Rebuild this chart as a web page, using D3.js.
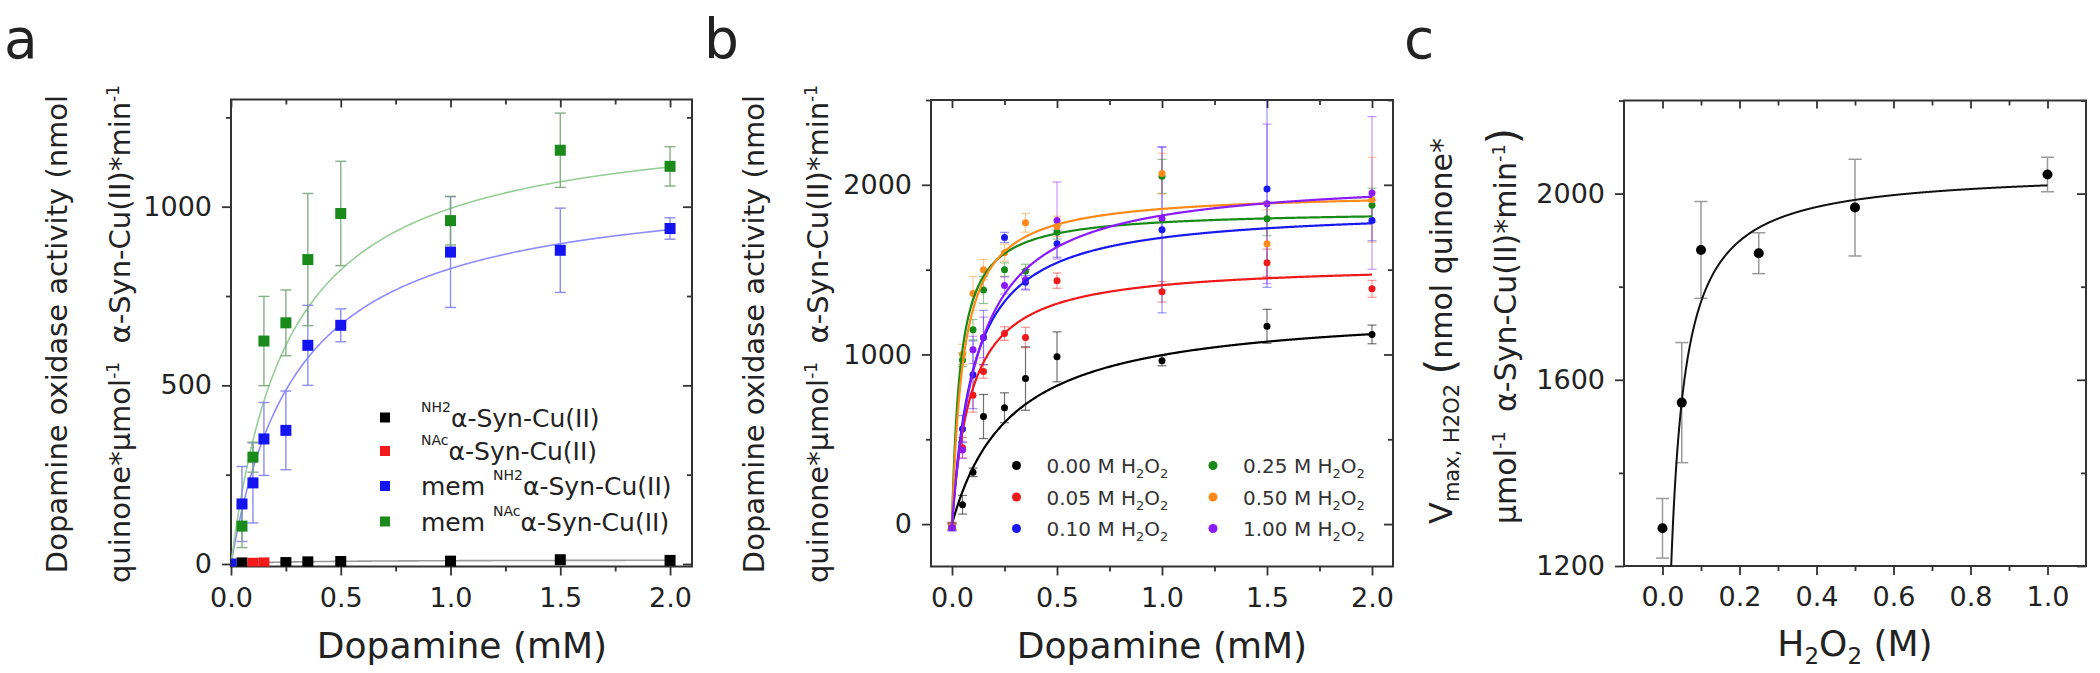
<!DOCTYPE html>
<html><head><meta charset="utf-8">
<script src="https://cdn.jsdelivr.net/npm/d3@7"></script>
<style>
body{margin:0;background:#fff}
svg{display:block}
text{font-family:"DejaVu Sans",sans-serif;fill:#222}
</style>
</head><body>
<svg id="chart" width="2100" height="673"></svg>
<script>
// ================= DATA =================
// Panel a : dopamine oxidase activity vs dopamine (mM)
const aDopamine   = [0, 0.05, 0.1, 0.15, 0.25, 0.35, 0.5, 1.0, 1.5, 2.0];
const aNH2        = [null, 3, null, null, 4, 6, 7, 8, 12, 10];
const aNH2Err     = [0, 0, 0, 0, 0, 0, 0, 0, 0, 0];
const aNAc        = [null, null, 2, 3, null, null, null, null, null, null];
const aNAcErr     = [0, 0, 0, 0, 0, 0, 0, 0, 0, 0];
const aMemNH2     = [0, 168, 227, 350, 374, 612, 668, 873, 878, 939];
const aMemNH2Err  = [0, 105, 112, 102, 110, 112, 46, 155, 118, 30];
const aMemNAc     = [null, 106, 299, 624, 675, 852, 981, 961, 1158, 1113];
const aMemNAcErr  = [0, 60, 42, 125, 92, 185, 146, 68, 104, 55];
const aLegendPrefix = ["", "", "mem ", "mem "];
const aLegendSup    = ["NH2", "NAc", "NH2", "NAc"];
const aLegendMain   = "\u03b1-Syn-Cu(II)";
// Michaelis-Menten fit parameters (Vmax, Km)
const aFitVmax = [12, null, 1078, 1258];
const aFitKm   = [0.3, null, 0.304, 0.264];
const aXTicks = [0, 0.5, 1.0, 1.5, 2.0];
const aYTicks = [0, 500, 1000];

// Panel b : activity vs dopamine at several H2O2 concentrations
const bDopamine = [0, 0.05, 0.1, 0.15, 0.25, 0.35, 0.5, 1.0, 1.5, 2.0];
const bH2O2Labels = ["0.00", "0.05", "0.10", "0.25", "0.50", "1.00"];
const bH000    = [-10, 114, 305, 634, 686, 858, 986, 963, 1166, 1118];
const bH000Err = [20, 55, 25, 130, 88, 187, 147, 30, 100, 55];
const bH005    = [-15, 450, 760, 900, 1123, 1100, 1435, 1369, 1541, 1387];
const bH005Err = [20, 60, 100, 40, 40, 60, 45, 60, 80, 50];
const bH010    = [-20, 560, 880, 1100, 1690, 1425, 1653, 1735, 1976, 1790];
const bH010Err = [20, 80, 200, 160, 30, 40, 80, 490, 580, 120];
const bH025    = [-15, 968, 1146, 1380, 1500, 1492, 1720, 2050, 1800, 1880];
const bH025Err = [20, 40, 60, 80, 40, 40, 40, 100, 100, 100];
const bH050    = [-10, 1000, 1360, 1500, 1600, 1776, 1755, 2066, 1653, 1912];
const bH050Err = [20, 60, 100, 60, 50, 55, 60, 120, 200, 250];
const bH100    = [-20, 437, 1027, 1100, 1407, 1440, 1790, 1800, 1888, 1952];
const bH100Err = [20, 50, 80, 120, 50, 60, 227, 420, 470, 450];
const bFitVmax = [1279, 1538, 1867, 1850, 1960, 2054];
const bFitKm   = [0.284, 0.092, 0.106, 0.04, 0.055, 0.129];
const bXTicks = [0, 0.5, 1.0, 1.5, 2.0];
const bYTicks = [0, 1000, 2000];

// Panel c : Vmax vs H2O2 (M)
const cH2O2     = [0, 0.05, 0.1, 0.25, 0.5, 1.0];
const cVmax     = [1281, 1551, 1879, 1872, 1970, 2041];
const cVmaxErr  = [64, 129, 104, 44, 104, 37];
const cFitVmax  = 2050;
const cFitKm    = 0.016;
const cXTicks = [0, 0.2, 0.4, 0.6, 0.8, 1.0];
const cYTicks = [1200, 1600, 2000];

// ================= DRAWING =================
const svg = d3.select("#chart");
const FONT = '"DejaVu Sans", sans-serif';
const mm = (vmax, km) => x => vmax * x / (km + x);

function axes(g, x, y, o) {
  const yb = y.range()[0], yt = y.range()[1], xl = x.range()[0], xr = x.range()[1];
  const add = (axis, tr) => {
    const a = g.append("g").attr("transform", tr).call(axis);
    a.select(".domain").remove();
    a.selectAll("line").attr("stroke", "#333").attr("stroke-width", 1.8);
    a.selectAll("text").attr("font-size", 27).attr("fill", "#222").attr("font-family", FONT);
    return a;
  };
  add(d3.axisBottom(x).tickValues(o.xMajor).tickFormat(d3.format(".1f")).tickSize(9).tickPadding(12), `translate(0,${yb})`);
  add(d3.axisBottom(x).tickValues(o.xMinor).tickFormat("").tickSize(5), `translate(0,${yb})`);
  add(d3.axisLeft(y).tickValues(o.yMajor).tickFormat(d3.format("d")).tickSize(9).tickPadding(10), `translate(${xl},0)`);
  add(d3.axisLeft(y).tickValues(o.yMinor).tickFormat("").tickSize(5), `translate(${xl},0)`);
  add(d3.axisBottom(x).tickValues(o.xMajor).tickFormat("").tickSize(8), `translate(0,${yt})`);
  add(d3.axisBottom(x).tickValues(o.xMinor).tickFormat("").tickSize(5), `translate(0,${yt})`);
  add(d3.axisLeft(y).tickValues(o.yMajor).tickFormat("").tickSize(9), `translate(${xr},0)`);
  add(d3.axisLeft(y).tickValues(o.yMinor).tickFormat("").tickSize(5), `translate(${xr},0)`);
  g.append("rect").attr("x", xl).attr("y", yt).attr("width", xr - xl).attr("height", yb - yt)
    .attr("fill", "none").attr("stroke", "#333").attr("stroke-width", 2);
}

function clip(id, x, y) {
  const [xl, xr] = x.range(), [yb, yt] = y.range();
  svg.append("clipPath").attr("id", id).append("rect")
    .attr("x", xl).attr("y", yt).attr("width", xr - xl).attr("height", yb - yt);
  return svg.append("g").attr("clip-path", `url(#${id})`);
}

function errorBars(g, x, y, xs, ys, es, color, cap, width, opacity) {
  xs.forEach((xv, i) => {
    const v = ys[i], e = es[i];
    if (v == null || !e) return;
    const px = x(xv);
    g.append("line").attr("x1", px).attr("x2", px).attr("y1", y(v - e)).attr("y2", y(v + e))
      .attr("stroke", color).attr("stroke-width", width).attr("opacity", opacity);
    [v - e, v + e].forEach(t => g.append("line").attr("x1", px - cap / 2).attr("x2", px + cap / 2)
      .attr("y1", y(t)).attr("y2", y(t)).attr("stroke", color).attr("stroke-width", width).attr("opacity", opacity));
  });
}

// ---------- Panel letters ----------
[["a", 4], ["b", 704], ["c", 1404]].forEach(([t, px]) =>
  svg.append("text").attr("x", px).attr("y", 58).attr("font-size", 55).text(t));

// ---------- Panel a ----------
{
  const x = d3.scaleLinear().domain([0, 2.1]).range([231, 692]);
  const y = d3.scaleLinear().domain([-7, 1300]).range([566.5, 99.5]);
  const g = svg.append("g");
  axes(g, x, y, { xMajor: aXTicks, xMinor: [0.25, 0.75, 1.25, 1.75], yMajor: aYTicks, yMinor: [250, 750, 1250] });
  const pg = clip("clipA", x, y);
  const series = [
    { v: aNH2, e: aNH2Err, col: "#000000", fit: "#9a9a9a", bar: "#666" },
    { v: aNAc, e: aNAcErr, col: "#f21a1a", fit: null, bar: "#f08080" },
    { v: aMemNH2, e: aMemNH2Err, col: "#1414f0", fit: "#8c8cff", bar: "#8282ee" },
    { v: aMemNAc, e: aMemNAcErr, col: "#1a8a1a", fit: "#98cf98", bar: "#7aa87a" }
  ];
  const xs = d3.range(0, 2.0001, 0.005);
  series.forEach((s, i) => {
    if (aFitVmax[i] == null) return;
    const f = mm(aFitVmax[i], aFitKm[i]);
    pg.append("path").datum(xs).attr("fill", "none").attr("stroke", s.fit).attr("stroke-width", 1.6)
      .attr("d", d3.line().x(d => x(d)).y(d => y(f(d))));
  });
  series.forEach(s => errorBars(pg, x, y, aDopamine, s.v, s.e, s.bar, 11, 1.4, 0.9));
  const sz = 11;
  series.forEach(s => {
    aDopamine.forEach((xv, i) => {
      if (s.v[i] == null) return;
      pg.append("rect").attr("x", x(xv) - sz / 2).attr("y", y(s.v[i]) - sz / 2)
        .attr("width", sz).attr("height", sz).attr("fill", s.col);
    });
  });
  // legend
  const rows = [417.5, 451, 486, 521.5];
  series.forEach((s, i) => {
    svg.append("rect").attr("x", 380).attr("y", rows[i] - 5).attr("width", 10).attr("height", 10).attr("fill", s.col);
    const t = svg.append("text").attr("x", 421).attr("y", rows[i] + 9).attr("font-size", 25);
    if (aLegendPrefix[i]) t.append("tspan").text(aLegendPrefix[i].replace(" ", "\u00a0"));
    t.append("tspan").attr("font-size", 14).attr("dy", -15).text(aLegendSup[i]);
    t.append("tspan").attr("dy", 15).text(aLegendMain);
  });
  // axis titles
  svg.append("text").attr("x", 462).attr("y", 658).attr("text-anchor", "middle").attr("font-size", 36).text("Dopamine (mM)");
  svg.append("text").attr("transform", "translate(67,334) rotate(-90)").attr("text-anchor", "middle")
    .attr("font-size", 29).text("Dopamine oxidase activity (nmol");
  const t2 = svg.append("text").attr("transform", "translate(129.5,334) rotate(-90)").attr("text-anchor", "middle").attr("font-size", 29);
  t2.append("tspan").text("quinone*\u00b5mol");
  t2.append("tspan").attr("font-size", 17).attr("dy", -11).text("-1");
  t2.append("tspan").attr("dy", 11).text("\u00a0\u00a0\u03b1-Syn-Cu(II)*min");
  t2.append("tspan").attr("font-size", 17).attr("dy", -11).text("-1");
}

// ---------- Panel b ----------
{
  const x = d3.scaleLinear().domain([-0.1, 2.1]).range([931, 1393]);
  const y = d3.scaleLinear().domain([-250, 2500]).range([566.5, 100]);
  const g = svg.append("g");
  axes(g, x, y, { xMajor: bXTicks, xMinor: [0.25, 0.75, 1.25, 1.75], yMajor: bYTicks, yMinor: [500, 1500, 2500] });
  const pg = clip("clipB", x, y);
  const colors = ["#000000", "#f01818", "#1818f0", "#168a16", "#ff8a1a", "#8a1aff"];
  const vals = [bH000, bH005, bH010, bH025, bH050, bH100];
  const errs = [bH000Err, bH005Err, bH010Err, bH025Err, bH050Err, bH100Err];
  vals.forEach((v, i) => errorBars(pg, x, y, bDopamine, v, errs[i], colors[i], 9, 1.2, i === 0 ? 0.55 : 0.45));
  vals.forEach((v, i) => bDopamine.forEach((xv, j) =>
    pg.append("circle").attr("cx", x(xv)).attr("cy", y(v[j])).attr("r", 3.5).attr("fill", colors[i])));
  const xs = d3.range(0, 2.0001, 0.004);
  bFitVmax.forEach((vm, i) => {
    const f = mm(vm, bFitKm[i]);
    pg.append("path").datum(xs).attr("fill", "none").attr("stroke", colors[i]).attr("stroke-width", 2.2)
      .attr("d", d3.line().x(d => x(d)).y(d => y(f(d))));
  });
  // legend
  const rowsY = [465.5, 497, 528.5];
  bH2O2Labels.forEach((lab, i) => {
    const col = Math.floor(i / 3), r = i % 3;
    const cx = col ? 1213 : 1016.5, tx = col ? 1243 : 1046.5;
    svg.append("circle").attr("cx", cx).attr("cy", rowsY[r]).attr("r", 4.5).attr("fill", colors[i]);
    const t = svg.append("text").attr("x", tx).attr("y", rowsY[r] + 7.5).attr("font-size", 20).style("fill", "#333");
    t.append("tspan").text(lab + "\u00a0M\u00a0H");
    t.append("tspan").attr("font-size", 13).attr("dy", 5).text("2");
    t.append("tspan").attr("dy", -5).text("O");
    t.append("tspan").attr("font-size", 13).attr("dy", 5).text("2");
  });
  svg.append("text").attr("x", 1162).attr("y", 658).attr("text-anchor", "middle").attr("font-size", 36).text("Dopamine (mM)");
  svg.append("text").attr("transform", "translate(764,334) rotate(-90)").attr("text-anchor", "middle")
    .attr("font-size", 29).text("Dopamine oxidase activity (nmol");
  const t2 = svg.append("text").attr("transform", "translate(828,334) rotate(-90)").attr("text-anchor", "middle").attr("font-size", 29);
  t2.append("tspan").text("quinone*\u00b5mol");
  t2.append("tspan").attr("font-size", 17).attr("dy", -11).text("-1");
  t2.append("tspan").attr("dy", 11).text("\u00a0\u00a0\u03b1-Syn-Cu(II)*min");
  t2.append("tspan").attr("font-size", 17).attr("dy", -11).text("-1");
}

// ---------- Panel c ----------
{
  const x = d3.scaleLinear().domain([-0.1, 1.1]).range([1624, 2086]);
  const y = d3.scaleLinear().domain([1200, 2200]).range([566, 100.5]);
  const g = svg.append("g");
  axes(g, x, y, { xMajor: cXTicks, xMinor: [0.1, 0.3, 0.5, 0.7, 0.9], yMajor: cYTicks, yMinor: [1400, 1800, 2200] });
  const pg = clip("clipC", x, y);
  errorBars(pg, x, y, cH2O2, cVmax, cVmaxErr, "#9a9a9a", 13, 1.5, 1);
  const f = mm(cFitVmax, cFitKm);
  const xs = d3.range(0.001, 1.0001, 0.001);
  pg.append("path").datum(xs).attr("fill", "none").attr("stroke", "#111").attr("stroke-width", 2)
    .attr("d", d3.line().x(d => x(d)).y(d => y(f(d))));
  cH2O2.forEach((xv, i) => pg.append("circle").attr("cx", x(xv)).attr("cy", y(cVmax[i])).attr("r", 5).attr("fill", "#000"));
  // x title
  const xt = svg.append("text").attr("x", 1855).attr("y", 656).attr("text-anchor", "middle").attr("font-size", 36);
  xt.append("tspan").text("H");
  xt.append("tspan").attr("font-size", 23).attr("dy", 8).text("2");
  xt.append("tspan").attr("dy", -8).text("O");
  xt.append("tspan").attr("font-size", 23).attr("dy", 8).text("2");
  xt.append("tspan").attr("dy", -8).text("\u00a0(M)");
  // y title
  const l1 = svg.append("text").attr("transform", "translate(1452,524) rotate(-90)").attr("font-size", 30);
  l1.append("tspan").attr("font-size", 32).text("V");
  l1.append("tspan").attr("font-size", 21).attr("dy", 7).text("max,\u00a0H2O2");
  l1.append("tspan").attr("dy", -7).text("\u00a0");
  l1.append("tspan").attr("font-size", 40).attr("dy", 2).text("(");
  l1.append("tspan").attr("dy", -2).text("nmol quinone*");
  const l2 = svg.append("text").attr("transform", "translate(1516,524) rotate(-90)").attr("font-size", 30);
  l2.append("tspan").text("\u00b5mol");
  l2.append("tspan").attr("font-size", 18).attr("dy", -11).text("-1");
  l2.append("tspan").attr("dy", 11).text("\u00a0\u00a0\u03b1-Syn-Cu(II)*min");
  l2.append("tspan").attr("font-size", 18).attr("dy", -11).text("-1");
  l2.append("tspan").attr("font-size", 42).attr("dy", 13).text(")");
}
</script>
</body></html>
